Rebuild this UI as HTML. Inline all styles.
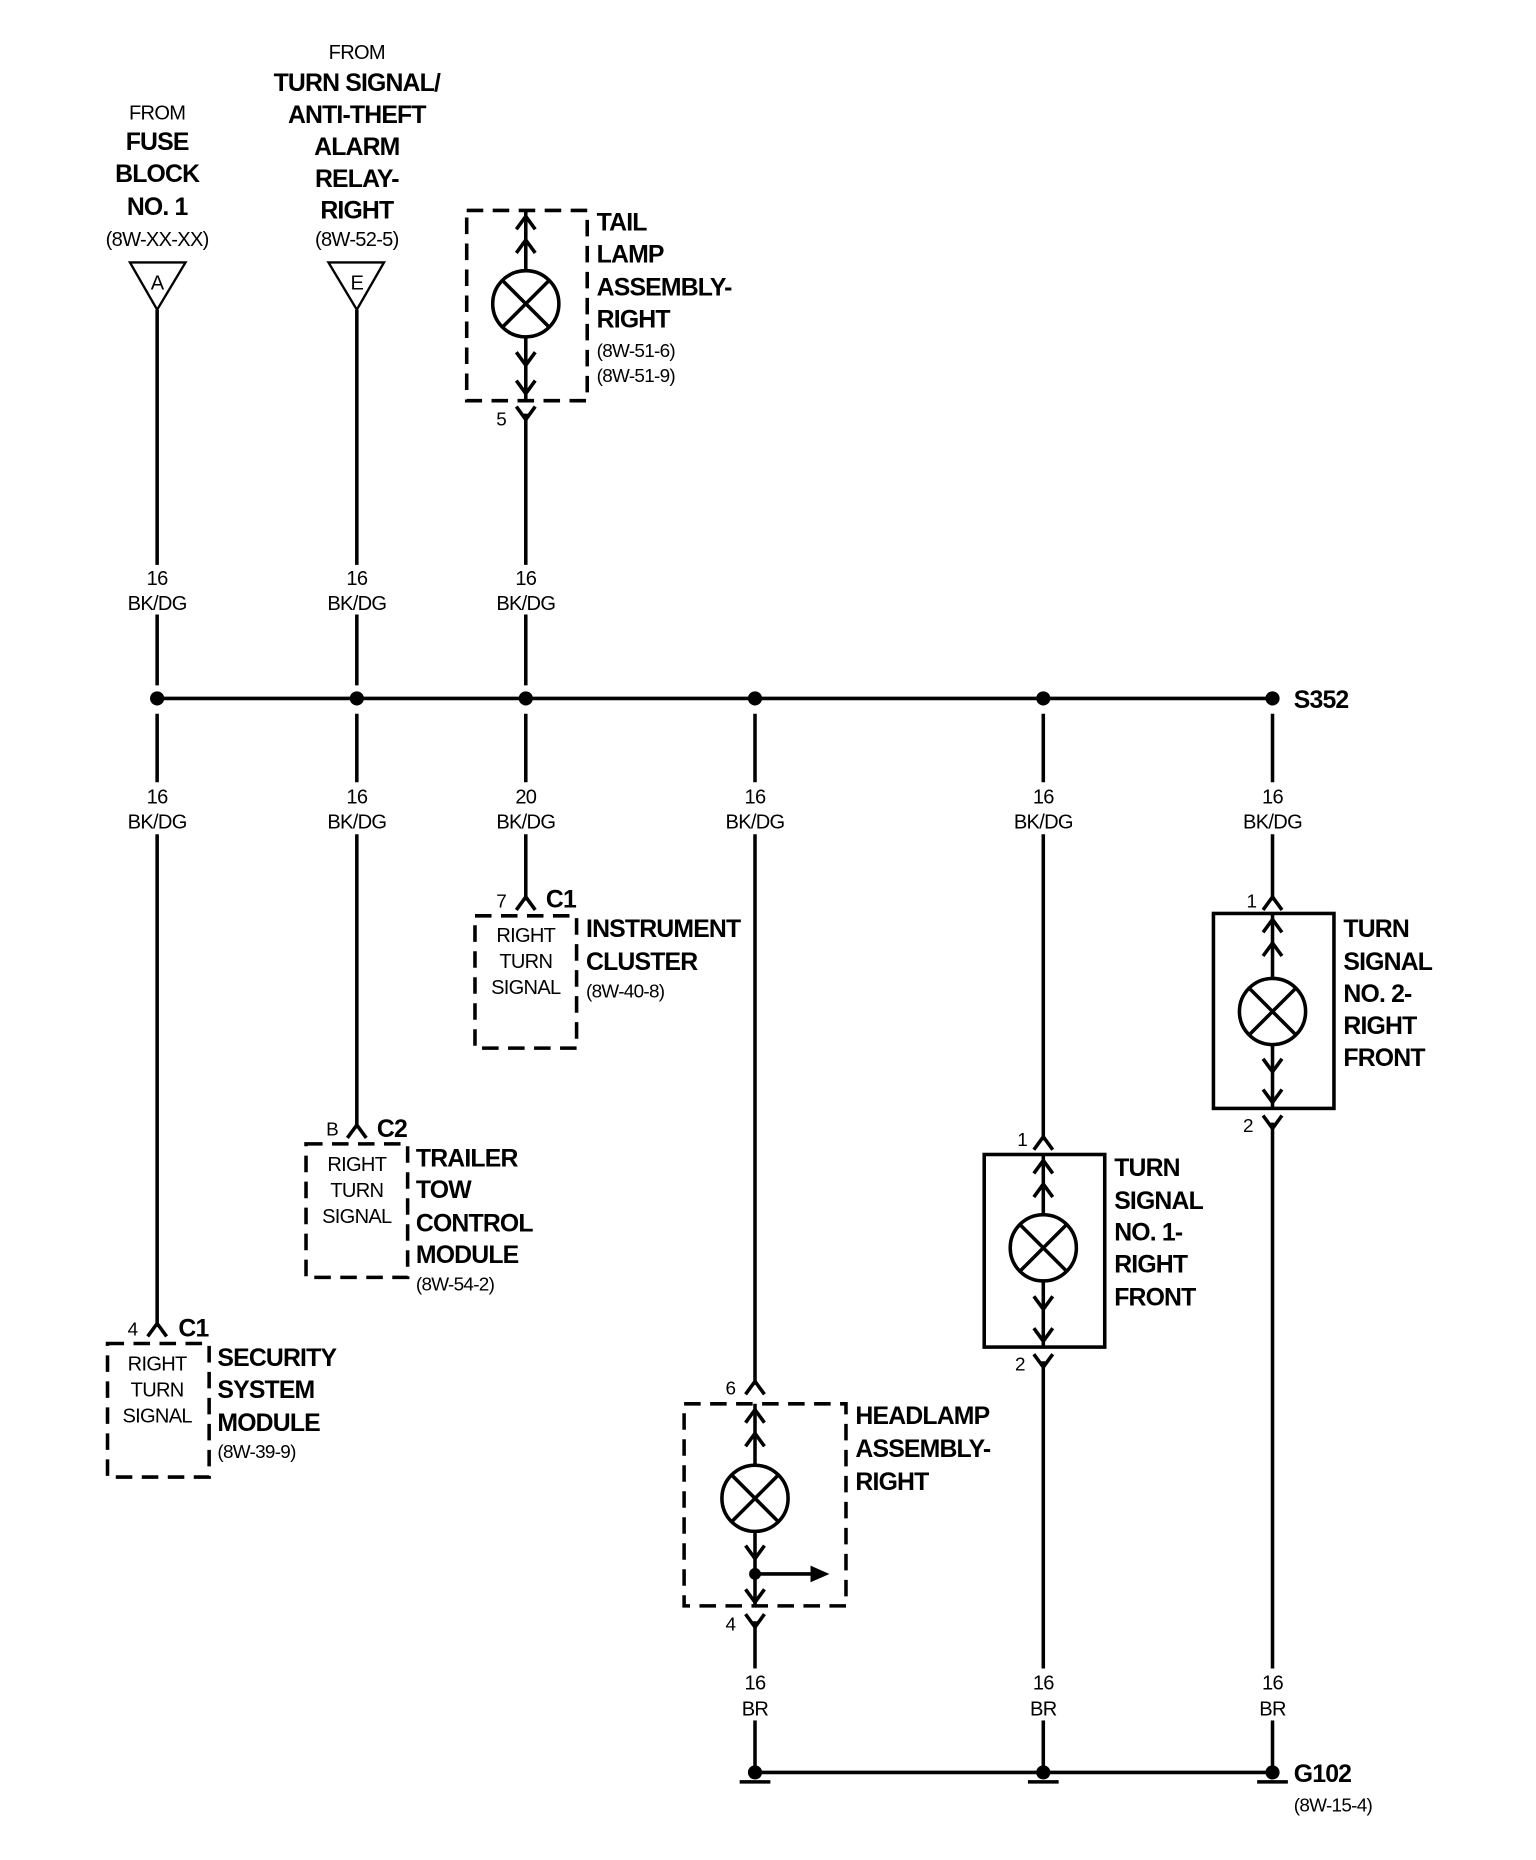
<!DOCTYPE html>
<html><head><meta charset="utf-8"><style>
html,body{margin:0;padding:0;background:#fff}
svg{display:block}
text{font-family:"Liberation Sans Narrow","Liberation Sans",sans-serif;fill:#000}
.b{font-weight:bold;font-size:21px;letter-spacing:-0.7px}
.s{font-size:16px;letter-spacing:-0.6px}
.m{font-size:17px;text-anchor:middle;letter-spacing:-0.6px}
.bm{font-weight:bold;font-size:21px;text-anchor:middle;letter-spacing:-0.7px}
</style></head><body>
<svg width="1536" height="1860" viewBox="0 0 1300 1574" xmlns="http://www.w3.org/2000/svg">
<g stroke="#000" stroke-width="3" fill="none">
<line x1="133" y1="591" x2="1077" y2="591"/>
<line x1="133" y1="262" x2="133" y2="478"/><line x1="133" y1="520" x2="133" y2="580"/>
<line x1="302" y1="262" x2="302" y2="478"/><line x1="302" y1="520" x2="302" y2="580"/>
<line x1="445" y1="350" x2="445" y2="478"/><line x1="445" y1="520" x2="445" y2="580"/>
<polygon points="110,222 157,222 133,262" stroke-width="2"/>
<polygon points="278,222 325,222 302,262" stroke-width="2"/>
<line x1="133" y1="604" x2="133" y2="662"/><line x1="133" y1="706" x2="133" y2="1123"/>
<line x1="302" y1="604" x2="302" y2="662"/><line x1="302" y1="706" x2="302" y2="955"/>
<line x1="445" y1="604" x2="445" y2="662"/><line x1="445" y1="706" x2="445" y2="762"/>
<line x1="639" y1="604" x2="639" y2="662"/><line x1="639" y1="706" x2="639" y2="1172"/>
<line x1="883" y1="604" x2="883" y2="662"/><line x1="883" y1="706" x2="883" y2="965"/>
<line x1="1077" y1="604" x2="1077" y2="662"/><line x1="1077" y1="706" x2="1077" y2="762"/>
<line x1="639" y1="1372" x2="639" y2="1412"/><line x1="639" y1="1456" x2="639" y2="1500"/>
<line x1="883" y1="1152" x2="883" y2="1412"/><line x1="883" y1="1456" x2="883" y2="1500"/>
<line x1="1077" y1="950" x2="1077" y2="1412"/><line x1="1077" y1="1456" x2="1077" y2="1500"/>
<line x1="639" y1="1500" x2="1077" y2="1500"/>
<line x1="626" y1="1508" x2="652" y2="1508"/><line x1="870" y1="1508" x2="896" y2="1508"/><line x1="1064" y1="1508" x2="1090" y2="1508"/>
<path d="M125,1131 L133,1120 L141,1131"/>
<path d="M294,963 L302,952 L310,963"/>
<path d="M437,770 L445,759 L453,770"/>
<path d="M631,1180 L639,1169 L647,1180"/>
<path d="M875,973 L883,962 L891,973"/>
<path d="M1069,770 L1077,759 L1085,770"/>
<path d="M437,344 L445,355 L453,344"/>
<path d="M631,1366 L639,1377 L647,1366"/>
<path d="M875,1146 L883,1157 L891,1146"/>
<path d="M1069,944 L1077,955 L1085,944"/>
<g stroke-dasharray="14,8">
<rect x="395" y="178" width="102" height="161"/>
<rect x="91" y="1137" width="86" height="113"/>
<rect x="259" y="968" width="86" height="113"/>
<rect x="402" y="775" width="86" height="112"/>
<rect x="579" y="1188" width="137" height="171"/>
</g>
<rect x="833" y="977" width="102" height="163"/>
<rect x="1027" y="773" width="102" height="165"/>
<line x1="445" y1="178" x2="445" y2="229"/><line x1="445" y1="285" x2="445" y2="339"/>
<path d="M437,194 L445,183 L453,194"/><path d="M437,214 L445,203 L453,214"/>
<path d="M437,298 L445,309 L453,298"/><path d="M437,322 L445,333 L453,322"/>
<circle cx="445" cy="257" r="28"/><path d="M425,237 L465,277 M465,237 L425,277"/>
<line x1="639" y1="1188" x2="639" y2="1240"/><line x1="639" y1="1296" x2="639" y2="1359"/>
<path d="M631,1204 L639,1193 L647,1204"/><path d="M631,1224 L639,1213 L647,1224"/>
<path d="M631,1308 L639,1319 L647,1308"/><path d="M631,1345 L639,1356 L647,1345"/>
<circle cx="639" cy="1268" r="28"/><path d="M619,1248 L659,1288 M659,1248 L619,1288"/>
<line x1="639" y1="1332" x2="688" y2="1332"/>
<line x1="883" y1="977" x2="883" y2="1028"/><line x1="883" y1="1084" x2="883" y2="1140"/>
<path d="M875,993 L883,982 L891,993"/><path d="M875,1013 L883,1002 L891,1013"/>
<path d="M875,1097 L883,1108 L891,1097"/><path d="M875,1124 L883,1135 L891,1124"/>
<circle cx="883" cy="1056" r="28"/><path d="M863,1036 L903,1076 M903,1036 L863,1076"/>
<line x1="1077" y1="773" x2="1077" y2="828"/><line x1="1077" y1="884" x2="1077" y2="938"/>
<path d="M1069,789 L1077,778 L1085,789"/><path d="M1069,809 L1077,798 L1085,809"/>
<path d="M1069,896 L1077,907 L1085,896"/><path d="M1069,922 L1077,933 L1085,922"/>
<circle cx="1077" cy="856" r="28"/><path d="M1057,836 L1097,876 M1097,836 L1057,876"/>
</g>
<polygon points="686,1325 702,1332 686,1339" fill="#000"/>
<g fill="#000">
<circle cx="133" cy="591" r="6"/><circle cx="302" cy="591" r="6"/><circle cx="445" cy="591" r="6"/>
<circle cx="639" cy="591" r="6"/><circle cx="883" cy="591" r="6"/><circle cx="1077" cy="591" r="6"/>
<circle cx="639" cy="1332" r="5"/>
<circle cx="639" cy="1500" r="6"/><circle cx="883" cy="1500" r="6"/><circle cx="1077" cy="1500" r="6"/>
</g>
<text class="m" x="133" y="101">FROM</text>
<text class="bm" x="133" y="127">FUSE</text>
<text class="bm" x="133" y="154">BLOCK</text>
<text class="bm" x="133" y="182">NO. 1</text>
<text class="m" x="133" y="208">(8W-XX-XX)</text>
<text class="m" x="133" y="245">A</text>
<text class="m" x="302" y="50">FROM</text>
<text class="bm" x="302" y="77">TURN SIGNAL/</text>
<text class="bm" x="302" y="104">ANTI-THEFT</text>
<text class="bm" x="302" y="131">ALARM</text>
<text class="bm" x="302" y="158">RELAY-</text>
<text class="bm" x="302" y="185">RIGHT</text>
<text class="m" x="302" y="208">(8W-52-5)</text>
<text class="m" x="302" y="245">E</text>
<text class="b" x="505" y="195">TAIL</text>
<text class="b" x="505" y="222">LAMP</text>
<text class="b" x="505" y="250">ASSEMBLY-</text>
<text class="b" x="505" y="277">RIGHT</text>
<text class="s" x="505" y="302">(8W-51-6)</text>
<text class="s" x="505" y="323">(8W-51-9)</text>
<text class="s" x="420" y="360">5</text>
<text class="m" x="133" y="495">16</text><text class="m" x="133" y="516">BK/DG</text>
<text class="m" x="302" y="495">16</text><text class="m" x="302" y="516">BK/DG</text>
<text class="m" x="445" y="495">16</text><text class="m" x="445" y="516">BK/DG</text>
<text class="m" x="133" y="680">16</text><text class="m" x="133" y="701">BK/DG</text>
<text class="m" x="302" y="680">16</text><text class="m" x="302" y="701">BK/DG</text>
<text class="m" x="445" y="680">20</text><text class="m" x="445" y="701">BK/DG</text>
<text class="m" x="639" y="680">16</text><text class="m" x="639" y="701">BK/DG</text>
<text class="m" x="883" y="680">16</text><text class="m" x="883" y="701">BK/DG</text>
<text class="m" x="1077" y="680">16</text><text class="m" x="1077" y="701">BK/DG</text>
<text class="m" x="639" y="1430">16</text><text class="m" x="639" y="1452">BR</text>
<text class="m" x="883" y="1430">16</text><text class="m" x="883" y="1452">BR</text>
<text class="m" x="1077" y="1430">16</text><text class="m" x="1077" y="1452">BR</text>
<text class="b" x="1095" y="599">S352</text>
<text class="s" x="420" y="768">7</text><text class="b" x="462" y="768">C1</text>
<text class="m" x="445" y="797">RIGHT</text><text class="m" x="445" y="819">TURN</text><text class="m" x="445" y="841">SIGNAL</text>
<text class="b" x="496" y="793">INSTRUMENT</text><text class="b" x="496" y="821">CLUSTER</text><text class="s" x="496" y="844">(8W-40-8)</text>
<text class="s" x="276" y="961">B</text><text class="b" x="319" y="962">C2</text>
<text class="m" x="302" y="991">RIGHT</text><text class="m" x="302" y="1013">TURN</text><text class="m" x="302" y="1035">SIGNAL</text>
<text class="b" x="352" y="987">TRAILER</text><text class="b" x="352" y="1014">TOW</text><text class="b" x="352" y="1042">CONTROL</text><text class="b" x="352" y="1069">MODULE</text><text class="s" x="352" y="1092">(8W-54-2)</text>
<text class="s" x="108" y="1130">4</text><text class="b" x="151" y="1131">C1</text>
<text class="m" x="133" y="1160">RIGHT</text><text class="m" x="133" y="1182">TURN</text><text class="m" x="133" y="1204">SIGNAL</text>
<text class="b" x="184" y="1156">SECURITY</text><text class="b" x="184" y="1183">SYSTEM</text><text class="b" x="184" y="1211">MODULE</text><text class="s" x="184" y="1234">(8W-39-9)</text>
<text class="s" x="614" y="1180">6</text><text class="s" x="614" y="1380">4</text>
<text class="b" x="724" y="1205">HEADLAMP</text><text class="b" x="724" y="1233">ASSEMBLY-</text><text class="b" x="724" y="1261">RIGHT</text>
<text class="s" x="861" y="970">1</text><text class="s" x="859" y="1160">2</text>
<text class="b" x="943" y="995">TURN</text><text class="b" x="943" y="1023">SIGNAL</text><text class="b" x="943" y="1050">NO. 1-</text><text class="b" x="943" y="1077">RIGHT</text><text class="b" x="943" y="1105">FRONT</text>
<text class="s" x="1055" y="768">1</text><text class="s" x="1052" y="958">2</text>
<text class="b" x="1137" y="793">TURN</text><text class="b" x="1137" y="821">SIGNAL</text><text class="b" x="1137" y="848">NO. 2-</text><text class="b" x="1137" y="875">RIGHT</text><text class="b" x="1137" y="902">FRONT</text>
<text class="b" x="1095" y="1508">G102</text>
<text class="s" x="1095" y="1533">(8W-15-4)</text>
</svg>
</body></html>
